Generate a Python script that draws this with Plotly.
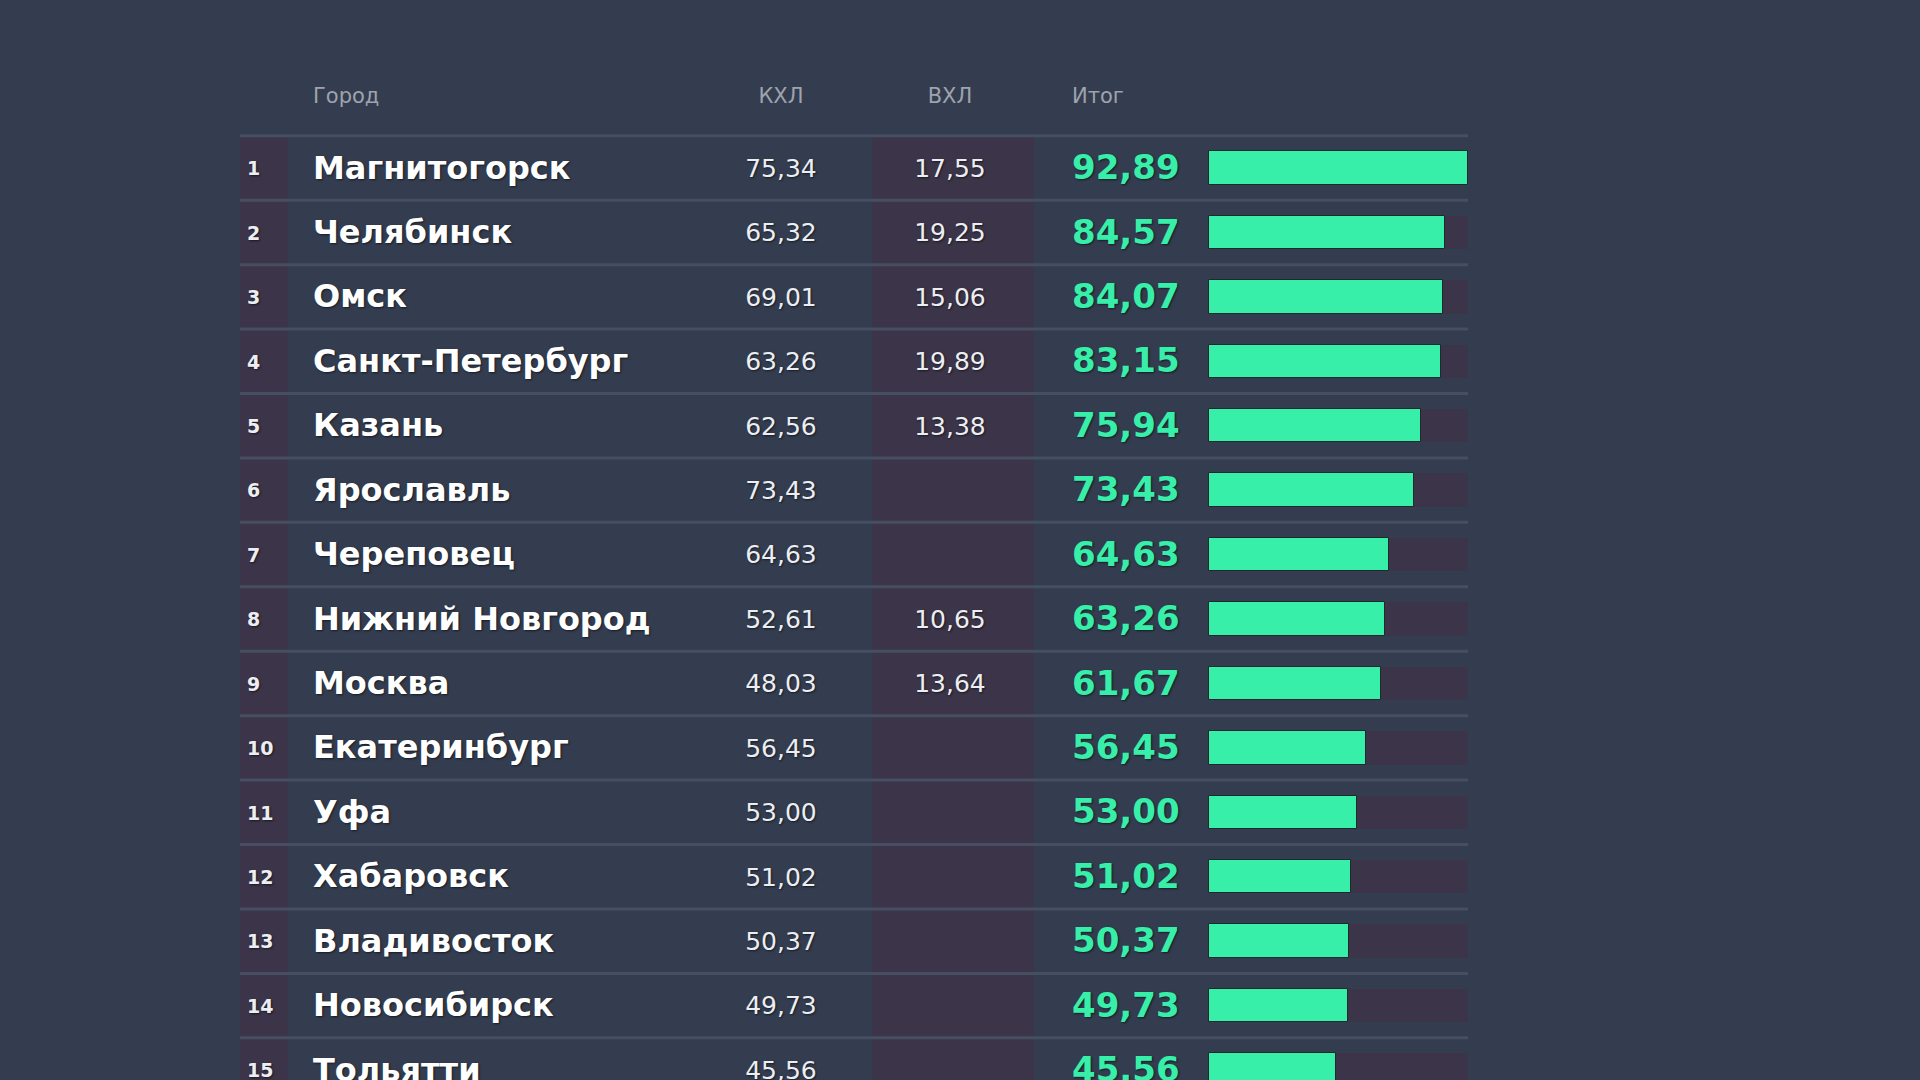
import plotly.graph_objects as go

# ---------------- data ----------------
ranks = list(range(1, 16))
cities = ["Магнитогорск", "Челябинск", "Омск", "Санкт-Петербург", "Казань",
          "Ярославль", "Череповец", "Нижний Новгород", "Москва", "Екатеринбург",
          "Уфа", "Хабаровск", "Владивосток", "Новосибирск", "Тольятти"]
khl = [75.34, 65.32, 69.01, 63.26, 62.56, 73.43, 64.63, 52.61, 48.03, 56.45,
       53.00, 51.02, 50.37, 49.73, 45.56]
vhl = [17.55, 19.25, 15.06, 19.89, 13.38, None, None, 10.65, 13.64, None,
       None, None, None, None, None]
total = [92.89, 84.57, 84.07, 83.15, 75.94, 73.43, 64.63, 63.26, 61.67, 56.45,
         53.00, 51.02, 50.37, 49.73, 45.56]
headers = ["Город", "КХЛ", "ВХЛ", "Итог"]

# ---------------- style / layout constants ----------------
W, H = 1920, 1080
BG = "#333d4f"
PURPLE = "#3c3448"
SEP = "#454f61"
GREEN = "#38efaa"
HEAD = "#9ea3ad"
NUM = "#eceef2"
SHADOW = "1px 1px 2px rgba(10,14,22,0.7)"

BAR_X0, BAR_X1 = 1209, 1468           # pixel span of the bar scale
ROW1_Y, ROW_H = 168, 64.43            # pixel centre of row 1, row pitch
TABLE_X0, TABLE_X1 = 240, 1468
TEXT_DY = 0.04                        # small downward nudge of row texts

vmax = max(total)
scale = (BAR_X1 - BAR_X0) / vmax       # px per unit


def px2x(px):
    return (px - BAR_X0) / scale


def py2r(py):
    return 1 + (py - ROW1_Y) / ROW_H


def fmt(v):
    return "" if v is None else f"{v:.2f}".replace(".", ",")


FONT_TXT = "DejaVu Sans"
fig = go.Figure()

# bar track + bars
fig.add_trace(go.Bar(y=ranks, x=[vmax] * len(ranks), orientation="h", width=0.52,
                     marker=dict(color=PURPLE, line=dict(width=0)),
                     hoverinfo="skip", showlegend=False))
fig.add_trace(go.Bar(y=ranks, x=total, orientation="h", width=0.52,
                     marker=dict(color=GREEN, line=dict(color="#1d2a2c", width=1)),
                     showlegend=False))


def text_col(xpx, ys, txt, size, color, pos, weight="normal", shadow=SHADOW):
    fig.add_trace(go.Scatter(
        x=[px2x(xpx)] * len(ys), y=ys, mode="text", text=txt,
        textposition=pos, cliponaxis=False, showlegend=False, hoverinfo="skip",
        textfont=dict(family=FONT_TXT, size=size, color=color, weight=weight,
                      shadow=shadow)))


ty = [r + TEXT_DY for r in ranks]
text_col(247, ty, [str(r) for r in ranks], 19, NUM, "middle right", weight="bold")
text_col(313, ty, cities, 32, "#ffffff", "middle right", weight="bold")
text_col(781, ty, [fmt(v) for v in khl], 25, NUM, "middle center")
text_col(950, ty, [fmt(v) for v in vhl], 25, NUM, "middle center")
text_col(1072, ty, [fmt(v) for v in total], 34, GREEN, "middle right", weight="bold")

# header row
hy = py2r(98)
text_col(313, [hy], [headers[0]], 21, HEAD, "middle right", shadow="none")
text_col(781, [hy], [headers[1]], 21, HEAD, "middle center", shadow="none")
text_col(950, [hy], [headers[2]], 21, HEAD, "middle center", shadow="none")
text_col(1072, [hy], [headers[3]], 21, HEAD, "middle right", shadow="none")

# column backgrounds and row separators
shapes = []
y_top, y_bot = 0.5, py2r(H + 20)
for x0, x1 in [(240, 288), (872, 1034)]:
    shapes.append(dict(type="rect", xref="x", yref="y", x0=px2x(x0), x1=px2x(x1),
                       y0=y_top, y1=y_bot, fillcolor=PURPLE, line_width=0, layer="below"))
for i in range(len(ranks) + 1):
    yy = 0.5 + i
    shapes.append(dict(type="line", xref="x", yref="y", x0=px2x(TABLE_X0), x1=px2x(TABLE_X1),
                       y0=yy, y1=yy, line=dict(color=SEP, width=3), layer="below"))

fig.update_layout(
    width=W, height=H, margin=dict(l=0, r=0, t=0, b=0),
    paper_bgcolor=BG, plot_bgcolor=BG, barmode="overlay", bargap=0,
    shapes=shapes,
    xaxis=dict(range=[px2x(0), px2x(W)], visible=False, fixedrange=True),
    yaxis=dict(range=[py2r(H), py2r(0)], visible=False, fixedrange=True),
)

fig.write_html(
    "out.html",
    config={"displayModeBar": False},
    post_script=("document.body.style.margin='0';"
                 "document.body.style.background='" + BG + "';"
                 "document.body.style.overflow='hidden';"),
)
